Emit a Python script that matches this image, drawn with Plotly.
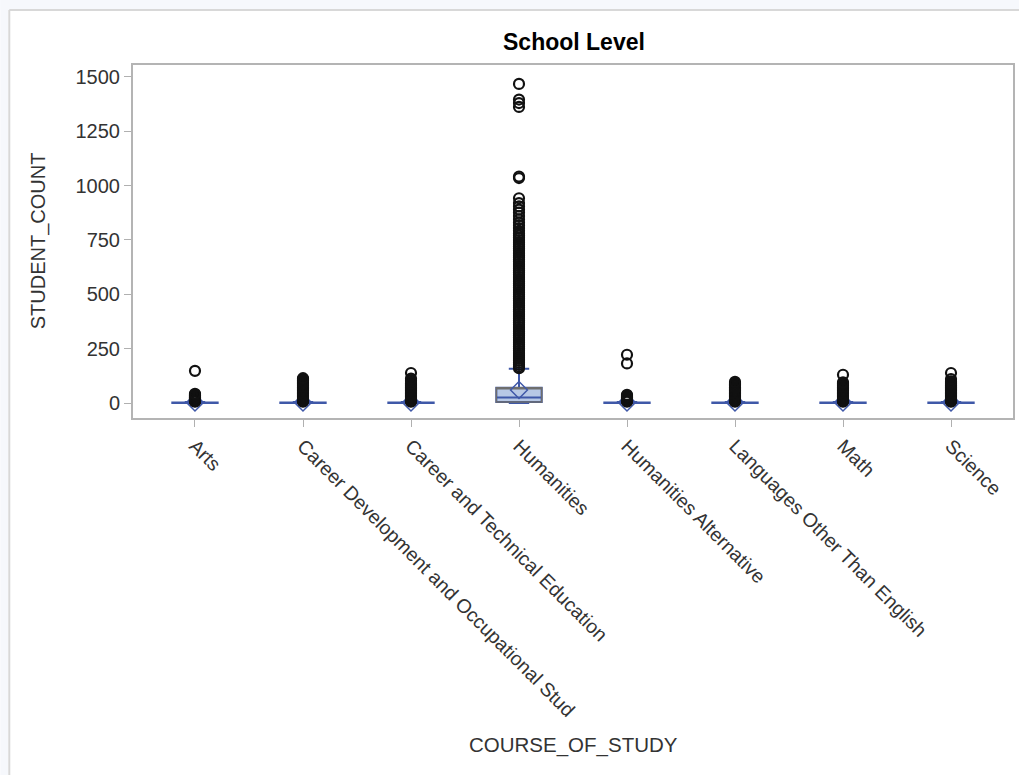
import plotly.graph_objects as go

CATEGORIES = ["Arts", "Career Development and Occupational Stud",
              "Career and Technical Education", "Humanities",
              "Humanities Alternative", "Languages Other Than English",
              "Math", "Science"]

Q1 = [0, 0, 0, 5, 0, 0, 0, 0]
MEDIAN = [1, 1, 1, 25, 1, 1, 1, 1]
Q3 = [2, 2, 2, 70, 2, 2, 2, 2]
LOWER_FENCE = [0, 0, 0, 0, 0, 0, 0, 0]
UPPER_FENCE = [5, 5, 5, 158, 5, 5, 5, 5]
MEAN = [2, 2, 2, 60, 2, 2, 2, 2]

OUT_ARTS = [6, 8, 10, 12, 14, 16, 18, 20, 22, 24, 26, 28, 30, 33, 36, 39, 42, 148]
OUT_CAREER_DEV = [6, 9, 12, 15, 18, 22, 26, 30, 34, 38, 42, 46, 50, 54, 58, 62,
                  66, 70, 74, 78, 82, 86, 90, 94, 98, 102, 106, 110, 114]
OUT_CAREER_TECH = [6, 9, 12, 15, 18, 22, 26, 30, 34, 38, 42, 46, 50, 54, 58, 62,
                   66, 70, 74, 78, 82, 86, 90, 97, 105, 112, 138]
OUT_HUMANITIES = [160, 168, 176, 185, 194, 203, 212, 221, 230, 240, 250, 260,
                  270, 280, 290, 300, 310, 320, 330, 340, 350, 360, 370, 380,
                  390, 400, 410, 420, 430, 440, 450, 460, 470, 480, 490, 500,
                  510, 520, 530, 540, 550, 560, 570, 580, 590, 600, 610, 620,
                  630, 640, 650, 660, 670, 680, 690, 700, 710, 720, 730, 740,
                  750, 760, 770, 780, 792, 805, 818, 830, 845, 860, 876, 890,
                  905, 920, 942, 1035, 1042, 1362, 1380, 1396, 1468]
OUT_HUM_ALT = [6, 9, 12, 15, 18, 21, 24, 27, 30, 34, 38, 182, 222]
OUT_LANGUAGES = [6, 9, 12, 15, 18, 22, 26, 30, 34, 38, 42, 46, 50, 54, 58, 62,
                 66, 70, 74, 79, 85, 91, 97]
OUT_MATH = [6, 9, 12, 15, 18, 22, 26, 30, 34, 38, 42, 46, 50, 54, 58, 62, 66,
            70, 74, 78, 82, 86, 90, 95, 130]
OUT_SCIENCE = [6, 9, 12, 15, 18, 22, 26, 30, 34, 38, 42, 46, 50, 54, 58, 62, 66,
               70, 74, 78, 82, 86, 90, 95, 100, 110, 138]

OUTLIERS = [OUT_ARTS, OUT_CAREER_DEV, OUT_CAREER_TECH, OUT_HUMANITIES,
            OUT_HUM_ALT, OUT_LANGUAGES, OUT_MATH, OUT_SCIENCE]

Y_TICKS = [0, 250, 500, 750, 1000, 1250, 1500]

BLUE = "#3f58a8"
FILL = "rgba(170,190,225,0.85)"
GRAY = "#6e6e6e"
FONT = "Liberation Sans, Arial, sans-serif"

fig = go.Figure()

# main box (blue whiskers + median, filled)
fig.add_trace(go.Box(
    x=CATEGORIES, q1=Q1, median=MEDIAN, q3=Q3,
    lowerfence=LOWER_FENCE, upperfence=UPPER_FENCE,
    boxpoints=False, width=0.42, whiskerwidth=0.45,
    fillcolor=FILL, line=dict(color=BLUE, width=2),
    showlegend=False, hoverinfo="skip"))

# gray outline for boxes with visible height
idx = [i for i in range(len(CATEGORIES)) if Q3[i] - Q1[i] > 10]
fig.add_trace(go.Box(
    x=[CATEGORIES[i] for i in idx], q1=[Q1[i] for i in idx],
    median=[Q3[i] for i in idx], q3=[Q3[i] for i in idx],
    lowerfence=[Q1[i] for i in idx], upperfence=[Q3[i] for i in idx],
    boxpoints=False, width=0.42, whiskerwidth=0,
    fillcolor="rgba(0,0,0,0)", line=dict(color=GRAY, width=1.5),
    showlegend=False, hoverinfo="skip"))

# means
fig.add_trace(go.Scatter(
    x=CATEGORIES, y=MEAN, mode="markers",
    marker=dict(symbol="diamond-open", size=13, color=BLUE,
                line=dict(color=BLUE, width=1.5)),
    showlegend=False, hoverinfo="skip"))

# outliers
ox, oy = [], []
for cat, vals in zip(CATEGORIES, OUTLIERS):
    ox += [cat] * len(vals)
    oy += vals
fig.add_trace(go.Scatter(
    x=ox, y=oy, mode="markers",
    marker=dict(symbol="circle-open", size=10, color="#111111",
                line=dict(color="#111111", width=2.2)),
    showlegend=False, hoverinfo="skip"))

L, R, T, B = 133, 6, 65, 357
W, H = 1021, 775
pw, ph = W - L - R, H - T - B


def px(xp):
    return (xp - L) / pw


def py(yp):
    return (H - B - yp) / ph


fig.update_layout(
    width=W, height=H,
    margin=dict(l=L, r=R, t=T, b=B, pad=0),
    paper_bgcolor="white", plot_bgcolor="white",
    boxmode="overlay",
    font=dict(family=FONT, size=19.5, color="#333333"),
    xaxis=dict(type="category", range=[-0.574, 7.574],
               tickangle=45, ticks="outside", ticklen=7, tickcolor="#b0b0b0",
               tickfont=dict(size=19.5, color="#333333"),
               showline=True, linecolor="#b4b4b4", linewidth=2, mirror=True,
               showgrid=False, zeroline=False),
    yaxis=dict(range=[-69, 1555], tickvals=Y_TICKS,
               ticks="outside", ticklen=7, tickcolor="#b0b0b0",
               tickfont=dict(size=20, color="#333333"),
               showline=True, linecolor="#b4b4b4", linewidth=2, mirror=True,
               showgrid=False, zeroline=False),
    annotations=[
        dict(text="<b>School Level</b>", x=px(575), y=py(42), xref="paper",
             yref="paper", showarrow=False, xanchor="center", yanchor="middle",
             font=dict(size=23, color="#000000", family=FONT)),
        dict(text="COURSE_OF_STUDY", x=px(574), y=py(745), xref="paper",
             yref="paper", showarrow=False, xanchor="center", yanchor="middle",
             font=dict(size=20.5, color="#333333", family=FONT)),
        dict(text="STUDENT_COUNT", x=px(38), y=py(241), xref="paper",
             yref="paper", showarrow=False, xanchor="center", yanchor="middle",
             textangle=-90, font=dict(size=20, color="#333333", family=FONT)),
    ],
    shapes=[
        dict(type="rect", xref="paper", yref="paper", x0=px(0), x1=px(W),
             y0=py(0), y1=py(10), fillcolor="#f6f8fc", line=dict(width=0),
             layer="below"),
        dict(type="rect", xref="paper", yref="paper", x0=px(0), x1=px(8),
             y0=py(0), y1=py(H), fillcolor="#f6f8fc", line=dict(width=0),
             layer="below"),
        dict(type="line", xref="paper", yref="paper", x0=px(9), x1=px(W),
             y0=py(10), y1=py(10), line=dict(color="#d8d8d8", width=2)),
        dict(type="line", xref="paper", yref="paper", x0=px(9), x1=px(9),
             y0=py(10), y1=py(H), line=dict(color="#d8d8d8", width=2)),
    ],
)

fig.write_html("out.html")
